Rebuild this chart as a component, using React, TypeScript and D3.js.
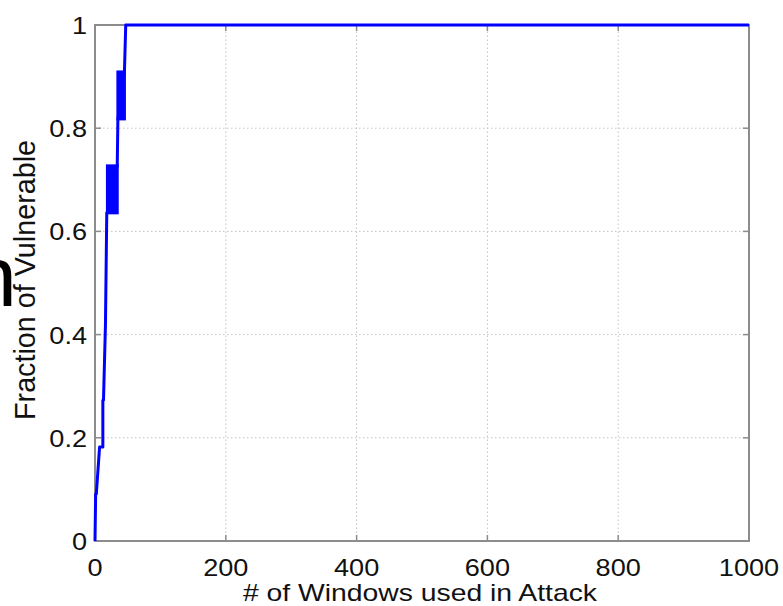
import * as d3 from 'd3';
import React, { useRef, useEffect } from 'react';

// values
const xTicks = [0, 200, 400, 600, 800, 1000];
const yTicks = [0, 0.2, 0.4, 0.6, 0.8, 1];
const windowsUsed = [0, 1, 2, 7, 12, 12, 13, 16, 18, 19, 34, 35, 45, 47, 1000];
const fractionVulnerable = [0, 0.091, 0.091, 0.182, 0.182, 0.273, 0.273, 0.42, 0.636, 0.636, 0.727, 0.818, 0.909, 1, 1];
// ranges where the fraction flips back and forth between two levels
const flipStart = [19, 35];
const flipEnd = [34, 45];
const flipLow = [0.636, 0.818];
const flipHigh = [0.727, 0.909];

const W = 783;
const H = 606;
const margin = { left: 95, right: 34, top: 25, bottom: 65 };
const FONT = "'Liberation Sans', Arial, Helvetica, sans-serif";
const BLUE = '#0000ff';

function Chart() {
  const ref = useRef(null);

  useEffect(() => {
    document.body.style.margin = '0';
    draw();
  }, []);

  const draw = () => {
    const svg = d3.select(ref.current).attr('width', W).attr('height', H);
    svg.selectAll('*').remove();

    const x = d3.scaleLinear().domain([0, 1000]).range([margin.left, W - margin.right]);
    const y = d3.scaleLinear().domain([0, 1]).range([H - margin.bottom, margin.top]);
    const [x0, x1] = x.range();
    const [y0, y1] = y.range();

    svg.append('rect').attr('width', W).attr('height', H).attr('fill', '#fff');

    // dotted grid
    const grid = svg.append('g').attr('stroke', '#c4c4c4').attr('stroke-width', 1).attr('stroke-dasharray', '1.5,2.5');
    grid.selectAll('.gx').data(xTicks.slice(1, -1)).enter().append('line')
      .attr('x1', d => x(d)).attr('x2', d => x(d)).attr('y1', y0).attr('y2', y1);
    grid.selectAll('.gy').data(yTicks.slice(1, -1)).enter().append('line')
      .attr('y1', d => y(d)).attr('y2', d => y(d)).attr('x1', x0).attr('x2', x1);

    // box + inner ticks
    svg.append('rect')
      .attr('x', x0).attr('y', y1).attr('width', x1 - x0).attr('height', y0 - y1)
      .attr('fill', 'none').attr('stroke', '#8c8c8c').attr('stroke-width', 2);
    const ticks = svg.append('g').attr('stroke', '#8c8c8c').attr('stroke-width', 1.5);
    xTicks.slice(1, -1).forEach(d => {
      ticks.append('line').attr('x1', x(d)).attr('x2', x(d)).attr('y1', y0).attr('y2', y0 - 6);
      ticks.append('line').attr('x1', x(d)).attr('x2', x(d)).attr('y1', y1).attr('y2', y1 + 6);
    });
    yTicks.slice(1, -1).forEach(d => {
      ticks.append('line').attr('y1', y(d)).attr('y2', y(d)).attr('x1', x0).attr('x2', x0 + 6);
      ticks.append('line').attr('y1', y(d)).attr('y2', y(d)).attr('x1', x1).attr('x2', x1 - 6);
    });

    // tick labels
    svg.append('g').selectAll('text').data(xTicks).enter().append('text')
      .attr('transform', d => `translate(${x(d)},${y0 + 35}) scale(1.13,1)`)
      .attr('text-anchor', 'middle')
      .attr('font-family', FONT).attr('font-size', 24).attr('fill', '#111')
      .text(d => d3.format('d')(d));
    svg.append('g').selectAll('text').data(yTicks).enter().append('text')
      .attr('transform', d => `translate(${x0 - 8},${y(d) + 9}) scale(1.13,1)`)
      .attr('text-anchor', 'end')
      .attr('font-family', FONT).attr('font-size', 24).attr('fill', '#111')
      .text(d => (d === 0 || d === 1 ? String(d) : d.toFixed(1)));

    // axis titles
    svg.append('text')
      .attr('x', (x0 + x1) / 2 - 2).attr('y', 601)
      .attr('text-anchor', 'middle')
      .attr('font-family', FONT).attr('font-size', 24).attr('fill', '#111')
      .attr('textLength', 354).attr('lengthAdjust', 'spacingAndGlyphs')
      .text('# of Windows used in Attack');
    svg.append('text')
      .attr('transform', `translate(35,${(y0 + y1) / 2 - 3}) rotate(-90) scale(1,1.1)`)
      .attr('text-anchor', 'middle')
      .attr('font-family', FONT).attr('font-size', 27).attr('fill', '#111')
      .attr('textLength', 280).attr('lengthAdjust', 'spacingAndGlyphs')
      .text('Fraction of Vulnerable');

    // clipped letter at the left edge
    svg.append('text')
      .attr('x', -31).attr('y', 306)
      .attr('font-family', FONT).attr('font-size', 86).attr('fill', '#000')
      .text('n');

    // data
    const pts = windowsUsed.map((w, i) => [w, fractionVulnerable[i]]);
    const line = d3.line().x(d => x(d[0])).y(d => y(d[1]));
    svg.append('path')
      .attr('d', line(pts))
      .attr('fill', 'none').attr('stroke', BLUE).attr('stroke-width', 3)
      .attr('stroke-linejoin', 'round');

    svg.append('g').selectAll('rect').data(flipStart).enter().append('rect')
      .attr('x', (d, i) => x(d))
      .attr('width', (d, i) => x(flipEnd[i]) - x(d))
      .attr('y', (d, i) => y(flipHigh[i]))
      .attr('height', (d, i) => y(flipLow[i]) - y(flipHigh[i]))
      .attr('fill', BLUE).attr('stroke', BLUE).attr('stroke-width', 3);
  };

  return <svg ref={ref} style={{ display: 'block' }} />;
}

export default function App() {
  return <Chart />;
}
